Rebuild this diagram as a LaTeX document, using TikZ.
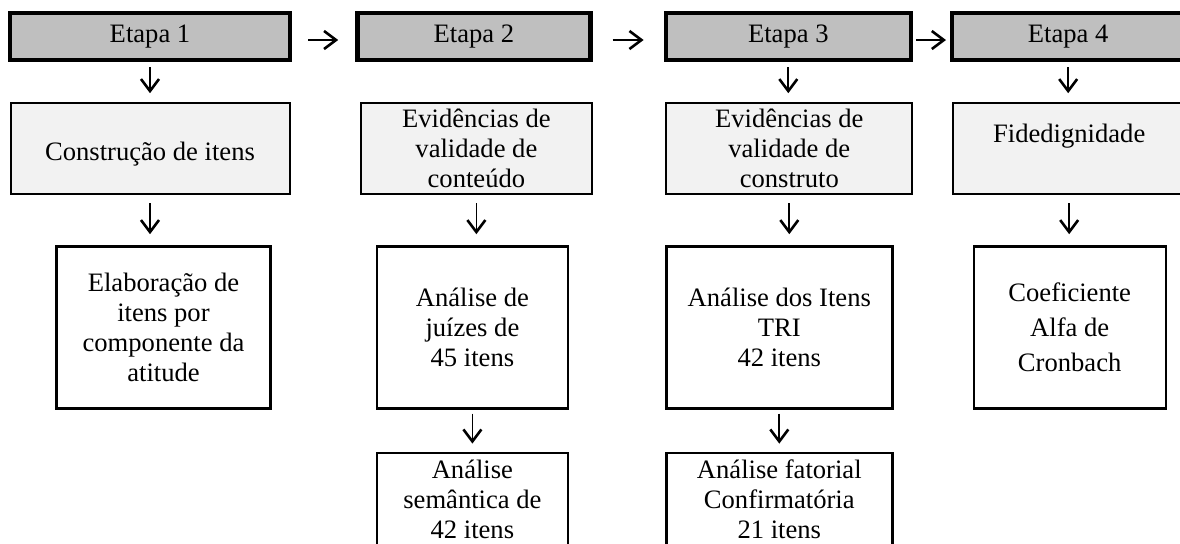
\documentclass[tikz,border=0pt]{standalone}
\usepackage{fontspec}
\setmainfont{Liberation Serif}
\usepackage{xcolor}
\usepackage{tikz}
\usetikzlibrary{positioning,arrows.meta}

\definecolor{cinzaEtapa}{HTML}{BFBFBF}
\definecolor{cinzaClaro}{HTML}{F2F2F2}

\tikzset{
  etapa/.style={draw,fill=cinzaEtapa,line width=2.2pt,minimum height=23.5pt,inner sep=0pt},
  passo/.style={draw,fill=cinzaClaro,line width=1pt,minimum height=45.5pt,align=center,inner sep=0pt},
  bloco/.style={draw,fill=white,line width=1.2pt,align=center,inner sep=0pt},
  seta/.style={-{Straight Barb[length=6pt,width=9pt,line width=1.3pt]},line width=0.85pt}
}

\begin{document}
\begin{tikzpicture}[font=\fontsize{13.3}{15}\selectfont]
\useasboundingbox (0,0) rectangle (590pt,-271.5pt);
\clip (0,0) rectangle (590pt,-271.5pt);

\node[etapa,minimum width=140pt] (Etapa1) at (75pt,-18.25pt) {Etapa 1};
\node[etapa,minimum width=116.5pt] (Etapa2) [right=31.5pt of Etapa1] {Etapa 2};
\node[etapa,minimum width=122.5pt] (Etapa3) [right=35.5pt of Etapa2] {Etapa 3};
\node[etapa,minimum width=116pt] (Etapa4) [right=18.5pt of Etapa3] {Etapa 4};

\node[passo,minimum width=139.5pt] (Construcao) [below=20pt of Etapa1] {\mbox{}\\Construção de itens};
\node[passo,minimum width=115.5pt] (Conteudo) [below=20pt of Etapa2,xshift=1.25pt] {Evidências de\\validade de\\conteúdo};
\node[passo,minimum width=123pt] (Construto) [below=20pt of Etapa3,xshift=0.5pt] {Evidências de\\validade de\\construto};
\node[passo,minimum width=116.5pt] (Fidedignidade) [below=20pt of Etapa4,xshift=0.5pt] {Fidedignidade\\\mbox{}};

\node[bloco,minimum width=107pt,minimum height=81pt] (Elaboracao) [below=25pt of Construcao,xshift=6.75pt] {Elaboração de\\itens por\\componente da\\atitude};
\node[bloco,minimum width=95.5pt,minimum height=81pt] (Juizes) [below=25pt of Conteudo,xshift=-2pt] {Análise de\\juízes de\\45 itens};
\node[bloco,minimum width=113pt,minimum height=81pt] (Itens) [below=25pt of Construto,xshift=-5pt] {Análise dos Itens\\TRI\\42 itens};
\node[bloco,minimum width=96pt,minimum height=81pt] (Coeficiente) [below=25pt of Fidedignidade,xshift=0.25pt] {Coeficiente\\[2.5pt]Alfa de\\[2.5pt]Cronbach};

\node[bloco,minimum width=95.5pt,minimum height=46.5pt] (Semantica) [below=21pt of Juizes] {Análise\\semântica de\\42 itens};
\node[bloco,minimum width=113pt,minimum height=46.5pt] (Confirmatoria) [below=21pt of Itens] {Análise fatorial\\Confirmatória\\21 itens};

\draw[seta,shorten <=8pt,shorten >=8.5pt] ([yshift=-1.75pt]Etapa1.east) -- ([yshift=-1.75pt]Etapa2.west);
\draw[seta,shorten <=10pt,shorten >=10pt] ([yshift=-1.75pt]Etapa2.east) -- ([yshift=-1.75pt]Etapa3.west);
\draw[seta,shorten <=1.5pt,shorten >=2pt] ([yshift=-1.75pt]Etapa3.east) -- ([yshift=-1.75pt]Etapa4.west);

\draw[seta,shorten <=2.5pt,shorten >=4.5pt] (Etapa1.south) -- (Etapa1.south |- Construcao.north);
\draw[seta,shorten <=2.5pt,shorten >=4.5pt] (Etapa3.south) -- (Etapa3.south |- Construto.north);
\draw[seta,shorten <=2.5pt,shorten >=4.5pt] (Etapa4.south) -- (Etapa4.south |- Fidedignidade.north);

\draw[seta,shorten <=4pt,shorten >=5.5pt] (Construcao.south) -- (Construcao.south |- Elaboracao.north);
\draw[seta,shorten <=4pt,shorten >=5.5pt] (Conteudo.south) -- (Conteudo.south |- Juizes.north);
\draw[seta,shorten <=4pt,shorten >=5.5pt] (Construto.south) -- (Construto.south |- Itens.north);
\draw[seta,shorten <=4pt,shorten >=5.5pt] (Fidedignidade.south) -- (Fidedignidade.south |- Coeficiente.north);

\draw[seta,shorten <=2pt,shorten >=4pt] (Juizes) -- (Semantica);
\draw[seta,shorten <=2pt,shorten >=4pt] (Itens) -- (Confirmatoria);
\end{tikzpicture}
\end{document}
